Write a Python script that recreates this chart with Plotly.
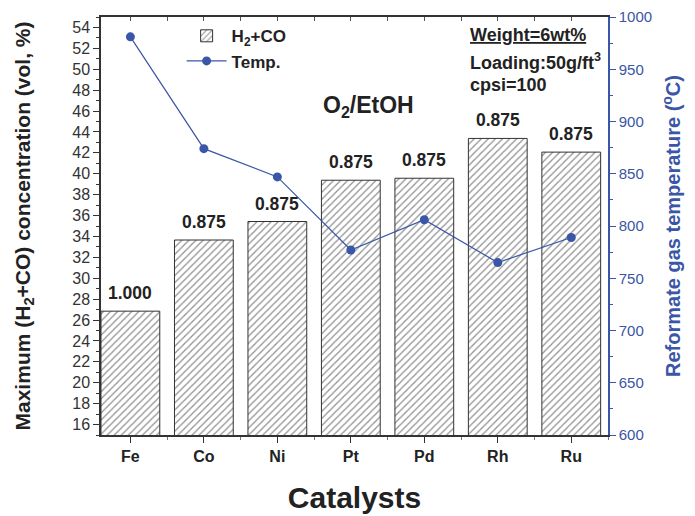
import plotly.graph_objects as go

catalysts = ["Fe", "Co", "Ni", "Pt", "Pd", "Rh", "Ru"]
h2co = [26.85, 33.66, 35.43, 39.38, 39.57, 43.38, 42.07]
temp = [981, 874, 847, 777, 806, 765, 789]
ratio_labels = ["1.000", "0.875", "0.875", "0.875", "0.875", "0.875", "0.875"]

BLUE = "#3a56a6"
FONT = "Liberation Sans, Arial, sans-serif"
xpos = list(range(len(catalysts)))

fig = go.Figure()
fig.add_trace(go.Bar(
    x=xpos, y=h2co, width=0.8, name="<b>H<sub>2</sub>+CO</b>",
    marker=dict(color="white", line=dict(color="#333333", width=1),
                pattern=dict(shape="/", fgcolor="#222222", bgcolor="white", size=5, solidity=0.25)),
    yaxis="y", xaxis="x",
))
fig.add_trace(go.Scatter(
    x=xpos, y=temp, name="<b>Temp.</b>", mode="lines+markers",
    line=dict(color=BLUE, width=1.2), marker=dict(color=BLUE, size=9),
    yaxis="y2", xaxis="x",
))
# dummy trace to activate top axis
fig.add_trace(go.Scatter(x=[None], y=[None], xaxis="x2", yaxis="y", showlegend=False, hoverinfo="skip"))

# the page body adds an 8px offset; compensate in margins
fig.update_layout(
    width=695, height=516,
    margin=dict(l=93, r=95, t=9, b=89, autoexpand=False),
    plot_bgcolor="white", paper_bgcolor="white",
    font=dict(family=FONT, color="#222222"),
    showlegend=True,
    legend=dict(x=0.159, y=0.997, xanchor="left", yanchor="top",
                bgcolor="rgba(0,0,0,0)", font=dict(size=17, family=FONT, color="#222222"),
                itemwidth=40, tracegroupgap=2),
    xaxis=dict(range=[-0.4, 6.5], tickmode="array", tickvals=xpos,
               ticktext=["<b>%s</b>" % c for c in catalysts],
               tickfont=dict(size=16, color="#222222"),
               ticks="outside", ticklen=6, tickcolor="#333333",
               minor=dict(ticks="outside", ticklen=3, dtick=0.5, tick0=0.5, tickcolor="#777777"),
               showline=True, linecolor="#333333", linewidth=1.5, showgrid=False, zeroline=False,
               title=dict(text="<b>Catalysts</b>", font=dict(size=30, color="#222222"), standoff=23)),
    xaxis2=dict(range=[-0.4, 6.5], overlaying="x", side="top", showticklabels=False,
                tickmode="linear", tick0=0, dtick=0.5, ticks="inside", ticklen=4, tickcolor="#555555",
                showline=True, linecolor="#333333", linewidth=1.5, showgrid=False, zeroline=False),
    yaxis=dict(range=[15, 55], tickmode="linear", tick0=16, dtick=2,
               ticks="outside", ticklen=6, tickcolor="#333333",
               minor=dict(ticks="outside", ticklen=3, dtick=1, tickcolor="#333333"),
               tickfont=dict(size=16, color="#333333"), ticklabeloverflow="allow",
               showline=True, linecolor="#333333", linewidth=1.5, showgrid=False, zeroline=False,
               title=dict(text="<b>Maximum (H<sub>2</sub>+CO) concentration (vol, %)</b>",
                          font=dict(size=21, color="#222222"), standoff=36)),
    yaxis2=dict(range=[600, 1000], overlaying="y", side="right", tickmode="linear", tick0=600, dtick=50,
                ticks="outside", ticklen=6, tickcolor=BLUE,
                minor=dict(ticks="outside", ticklen=3, dtick=25, tickcolor=BLUE),
                tickfont=dict(size=15, color=BLUE), ticklabeloverflow="allow",
                showline=True, linecolor=BLUE, linewidth=1.5, showgrid=False, zeroline=False,
                title=dict(text="<b>Reformate gas temperature (<sup>o</sup>C)</b>",
                           font=dict(size=20, color=BLUE), standoff=15)),
)

for xi, yi, lab in zip(xpos, h2co, ratio_labels):
    fig.add_annotation(x=xi, y=yi, xref="x", yref="y", text="<b>%s</b>" % lab,
                       showarrow=False, yanchor="bottom", yshift=6,
                       font=dict(size=17.5, color="#222222"))

fig.add_annotation(text="<b>O<sub>2</sub>/EtOH</b>", xref="paper", yref="paper",
                   x=0.527, y=0.785, xanchor="center", yanchor="middle",
                   showarrow=False, font=dict(size=23, color="#222222"))
fig.add_annotation(text="<b><u>Weight=6wt%</u></b>", xref="paper", yref="paper",
                   x=0.724, y=0.958, xanchor="left", yanchor="middle",
                   showarrow=False, font=dict(size=18, color="#222222"))
fig.add_annotation(text="<b>Loading:50g/ft<sup>3</sup></b>", xref="paper", yref="paper",
                   x=0.724, y=0.893, xanchor="left", yanchor="middle",
                   showarrow=False, font=dict(size=18, color="#222222"))
fig.add_annotation(text="<b>cpsi=100</b>", xref="paper", yref="paper",
                   x=0.724, y=0.838, xanchor="left", yanchor="middle",
                   showarrow=False, font=dict(size=18, color="#222222"))

fig.write_html("out.html")
